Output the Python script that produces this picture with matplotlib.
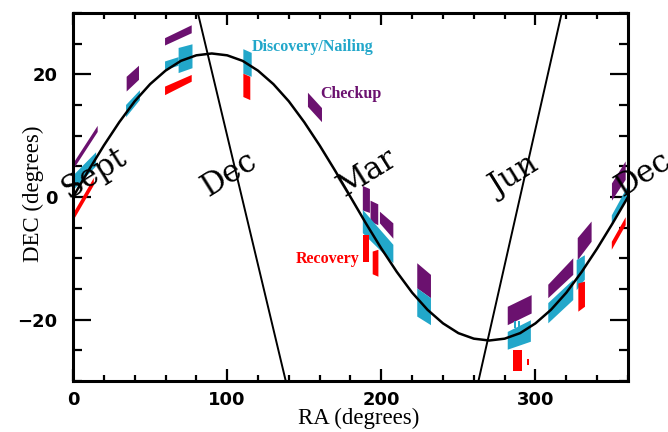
import numpy as np
import matplotlib
matplotlib.use("Agg")
import matplotlib.pyplot as plt
from matplotlib.ticker import MultipleLocator, FixedLocator

# Ecliptic path (RA, DEC) every 10 degrees
ecl_ra = [0, 10, 20, 30, 40, 50, 60, 70, 80, 90, 100, 110, 120, 130, 140, 150, 160, 170, 180,
          190, 200, 210, 220, 230, 240, 250, 260, 270, 280, 290, 300, 310, 320, 330, 340, 350, 360]
ecl_dec = [0.0, 4.3, 8.4, 12.2, 15.6, 18.4, 20.6, 22.2, 23.1, 23.4, 23.1, 22.2, 20.6, 18.4, 15.6, 12.2, 8.4, 4.3, 0.0,
           -4.3, -8.4, -12.2, -15.6, -18.4, -20.6, -22.2, -23.1, -23.4, -23.1, -22.2, -20.6, -18.4, -15.6, -12.2, -8.4, -4.3, 0.0]

# the two steep lines
line1_ra = [81.0, 109.5, 138.0]
line1_dec = [30.0, 0.0, -30.0]
line2_ra = [263.0, 290.0, 317.0]
line2_dec = [-30.0, 0.0, 30.0]

# month labels
month_names = ["Sept", "Dec", "Mar", "Jun", "Dec"]
month_ra = [-3.0, 88.0, 176.0, 275.0, 356.0]
month_dec = [-0.3, 0.0, 0.0, 0.0, 0.0]

# Field patches: RA left/right edge, DEC low/high at left edge, DEC low/high at right edge
# Checkup (purple)
chk_ra1 = [0.5, 34.8, 59.7, 152.4, 188.0, 193.0, 199.1, 223.3, 282.0, 308.3, 327.4, 349.6]
chk_ra2 = [16.0, 42.8, 77.0, 161.5, 192.6, 198.0, 207.8, 232.2, 297.5, 324.5, 336.4, 358.5]
chk_lo1 = [4.6, 17.2, 24.7, 14.7, -2.2, -4.0, -4.3, -14.9, -20.9, -16.5, -10.3, -0.6]
chk_hi1 = [5.6, 19.6, 25.9, 17.0, 1.8, -0.6, -2.4, -10.8, -17.9, -14.3, -6.7, 2.2]
chk_lo2 = [10.6, 19.1, 26.7, 12.2, -2.6, -4.6, -6.8, -16.5, -19.0, -12.7, -7.3, 2.8]
chk_hi2 = [11.6, 21.4, 28.0, 14.5, 1.3, -1.2, -4.3, -12.7, -16.0, -10.0, -4.0, 5.8]

# Discovery/Nailing (cyan)
dis_ra1 = [0.5, 34.4, 59.7, 68.5, 110.5, 188.0, 223.3, 282.0, 308.3, 326.7, 349.5, 286.0, 288.4]
dis_ra2 = [15.0, 43.4, 68.5, 77.5, 115.9, 207.8, 232.2, 297.0, 324.5, 332.0, 359.5, 287.3, 290.0]
dis_lo1 = [1.2, 13.0, 20.7, 20.2, 20.1, -5.9, -19.5, -24.9, -20.6, -15.2, -4.6, -21.4, -21.4]
dis_hi1 = [3.6, 15.0, 22.1, 24.3, 24.1, -2.1, -14.9, -22.0, -17.3, -10.3, -3.0, -20.3, -20.3]
dis_lo2 = [5.0, 15.8, 21.4, 21.0, 19.6, -10.8, -20.9, -23.6, -16.8, -13.5, 0.0, -21.4, -21.4]
dis_hi2 = [7.3, 17.4, 22.8, 24.9, 23.5, -7.8, -16.5, -20.1, -13.5, -9.5, 1.6, -20.3, -20.3]

# Recovery (red)
rec_ra1 = [0.3, 59.7, 110.5, 188.0, 194.4, 285.5, 294.5, 327.8, 349.5]
rec_ra2 = [13.5, 77.0, 115.0, 191.7, 198.1, 291.0, 295.8, 332.1, 358.5]
rec_lo1 = [-3.8, 16.6, 16.3, -10.6, -12.6, -28.3, -27.4, -18.7, -8.6]
rec_hi1 = [-2.6, 18.0, 20.1, -6.2, -8.9, -25.0, -26.4, -14.1, -7.3]
rec_lo2 = [1.9, 18.8, 15.8, -10.6, -13.0, -28.3, -27.4, -17.9, -4.6]
rec_hi2 = [3.1, 19.9, 19.6, -6.2, -8.6, -25.0, -26.4, -13.8, -3.3]

c_chk = "#6B116F"
c_dis = "#22A7CA"
c_rec = "#FF0000"


def draw_fields(ax, ra1, ra2, lo1, hi1, lo2, hi2, color):
    for a, b, l1, h1, l2, h2 in zip(ra1, ra2, lo1, hi1, lo2, hi2):
        ax.fill([a, b, b, a], [l1, l2, h2, h1], color=color, lw=0, zorder=2)


fig = plt.figure(figsize=(6.68, 4.32), dpi=100)
ax = fig.add_axes([0.1093, 0.1181, 0.8308, 0.8518])

draw_fields(ax, chk_ra1, chk_ra2, chk_lo1, chk_hi1, chk_lo2, chk_hi2, c_chk)
draw_fields(ax, dis_ra1, dis_ra2, dis_lo1, dis_hi1, dis_lo2, dis_hi2, c_dis)
draw_fields(ax, rec_ra1, rec_ra2, rec_lo1, rec_hi1, rec_lo2, rec_hi2, c_rec)

ax.plot(ecl_ra, ecl_dec, color="black", lw=1.8, zorder=3)
ax.plot(line1_ra, line1_dec, color="black", lw=1.4, zorder=3)
ax.plot(line2_ra, line2_dec, color="black", lw=1.4, zorder=3)

for name, r, d in zip(month_names, month_ra, month_dec):
    ax.text(r, d, name, rotation=32, rotation_mode="anchor", ha="left", va="baseline",
            fontsize=22, family="DejaVu Serif", zorder=5)

lab_kw = dict(fontsize=11.5, family="Liberation Serif", fontweight="bold", ha="left", va="center")
ax.text(116.1, 24.5, "Discovery/Nailing", color=c_dis, **lab_kw)
ax.text(160.2, 16.8, "Checkup", color=c_chk, **lab_kw)
ax.text(144.6, -10.1, "Recovery", color=c_rec, **lab_kw)

ax.set_xlim(0, 360)
ax.set_ylim(-30, 30)
ax.xaxis.set_major_locator(FixedLocator([0, 100, 200, 300]))
ax.xaxis.set_minor_locator(MultipleLocator(20))
ax.yaxis.set_major_locator(FixedLocator([-20, 0, 20]))
ax.yaxis.set_minor_locator(MultipleLocator(5))

for s in ax.spines.values():
    s.set_linewidth(2.2)
ax.tick_params(axis="both", which="both", direction="in", top=True, right=True, width=1.6)
ax.tick_params(axis="x", which="major", length=8.6, pad=7)
ax.tick_params(axis="x", which="minor", length=4.3)
ax.tick_params(axis="y", which="major", length=13, pad=11)
ax.tick_params(axis="y", which="minor", length=6.5)
for lab in ax.get_xticklabels() + ax.get_yticklabels():
    lab.set_fontfamily("DejaVu Sans")
    lab.set_fontweight("bold")
    lab.set_fontsize(13)

ax.set_xlabel("RA (degrees)", family="Liberation Serif", fontsize=16.5)
ax.set_ylabel("DEC (degrees)", family="Liberation Serif", fontsize=16.5)
ax.xaxis.set_label_coords(0.514, -0.074)
ax.yaxis.set_label_coords(-0.052, 0.51)

fig.savefig("out.png", dpi=100)
